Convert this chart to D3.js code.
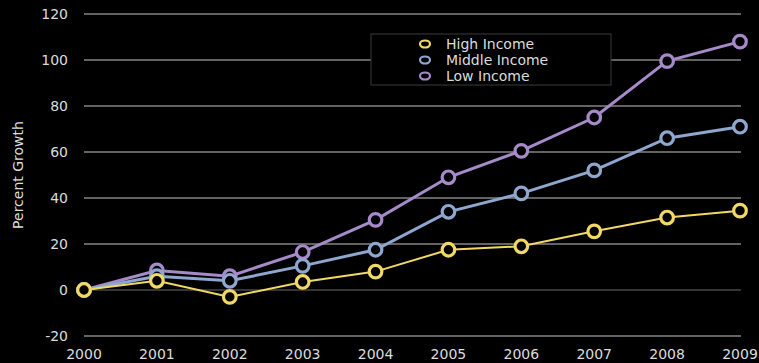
<!doctype html>
<html lang="en">
<head>
<meta charset="UTF-8" />
<title>Percent Growth</title>
<script src="https://d3js.org/d3.v7.min.js"></script>
<style>
  html, body { margin: 0; padding: 0; background: #000; }
  svg { display: block; font-family: "DejaVu Sans", sans-serif; }
</style>
</head>
<body>
<div id="graph"></div>
<script>
// values
var years = [2000, 2001, 2002, 2003, 2004, 2005, 2006, 2007, 2008, 2009];
var highIncome = [0, 4, -3, 3.5, 8, 17.5, 19, 25.5, 31.5, 34.5];
var middleIncome = [0, 6, 4, 10.5, 17.5, 34, 42, 52, 66, 71];
var lowIncome = [0, 8.5, 6, 16.5, 30.5, 49, 60.5, 75, 99.5, 108];
var yTicks = [-20, 0, 20, 40, 60, 80, 100, 120];
var seriesNames = ["High Income", "Middle Income", "Low Income"];

var series = [
  { name: seriesNames[0], values: highIncome, color: "#f2d865", width: 2 },
  { name: seriesNames[1], values: middleIncome, color: "#8ea7cf", width: 3 },
  { name: seriesNames[2], values: lowIncome, color: "#a68ac9", width: 3 }
];

var width = 759, height = 363;

var svg = d3.select("#graph").append("svg")
  .attr("width", width)
  .attr("height", height);

svg.append("rect").attr("width", width).attr("height", height).attr("fill", "#000");

var x = d3.scaleLinear().domain([2000, 2009]).range([84, 740]);
var y = d3.scaleLinear().domain([-20, 120]).range([336, 14]);

// gridlines + y labels
var grid = svg.append("g");
yTicks.forEach(function(t) {
  grid.append("line")
    .attr("x1", 84).attr("x2", 741)
    .attr("y1", y(t)).attr("y2", y(t))
    .attr("stroke", t === 0 ? "#6a6a6a" : "#858585")
    .attr("stroke-width", t === 0 ? 1 : 1.6);
  grid.append("text")
    .attr("x", 68).attr("y", y(t))
    .attr("dy", "0.35em")
    .attr("text-anchor", "end")
    .attr("fill", "#dcdcdc")
    .attr("font-size", 14)
    .text(t);
});

// x labels
svg.append("g").selectAll("text")
  .data(years)
  .enter().append("text")
  .attr("x", function(d) { return x(d); })
  .attr("y", 359)
  .attr("text-anchor", "middle")
  .attr("fill", "#dcdcdc")
  .attr("font-size", 14)
  .text(function(d) { return d; });

// axis title
svg.append("text")
  .attr("transform", "translate(23,175) rotate(-90)")
  .attr("text-anchor", "middle")
  .attr("fill", "#dcdcdc")
  .attr("font-size", 14)
  .text("Percent Growth");

// legend (drawn before lines so the lines stay on top)
var legend = svg.append("g");
legend.append("rect")
  .attr("x", 371).attr("y", 34)
  .attr("width", 240).attr("height", 51)
  .attr("fill", "#000")
  .attr("stroke", "#3a3a3a")
  .attr("stroke-width", 1);
series.forEach(function(s, i) {
  var ly = 44 + i * 16;
  legend.append("ellipse")
    .attr("cx", 425).attr("cy", ly).attr("rx", 5).attr("ry", 3.5)
    .attr("fill", "#000")
    .attr("stroke", s.color)
    .attr("stroke-width", 2.2);
  legend.append("text")
    .attr("x", 446).attr("y", ly)
    .attr("dy", "0.35em")
    .attr("fill", "#dcdcdc")
    .attr("font-size", 14)
    .text(s.name);
});

// lines and markers, low income drawn first
var line = d3.line()
  .x(function(d, i) { return x(years[i]); })
  .y(function(d) { return y(d); });

series.slice().reverse().forEach(function(s) {
  svg.append("path")
    .attr("d", line(s.values))
    .attr("fill", "none")
    .attr("stroke", s.color)
    .attr("stroke-width", s.width);
});

series.slice().reverse().forEach(function(s) {
  svg.append("g").selectAll("circle")
    .data(s.values)
    .enter().append("circle")
    .attr("cx", function(d, i) { return x(years[i]); })
    .attr("cy", function(d) { return y(d); })
    .attr("r", 6.3)
    .attr("fill", "#000")
    .attr("stroke", s.color)
    .attr("stroke-width", 3.2);
});
</script>
</body>
</html>
